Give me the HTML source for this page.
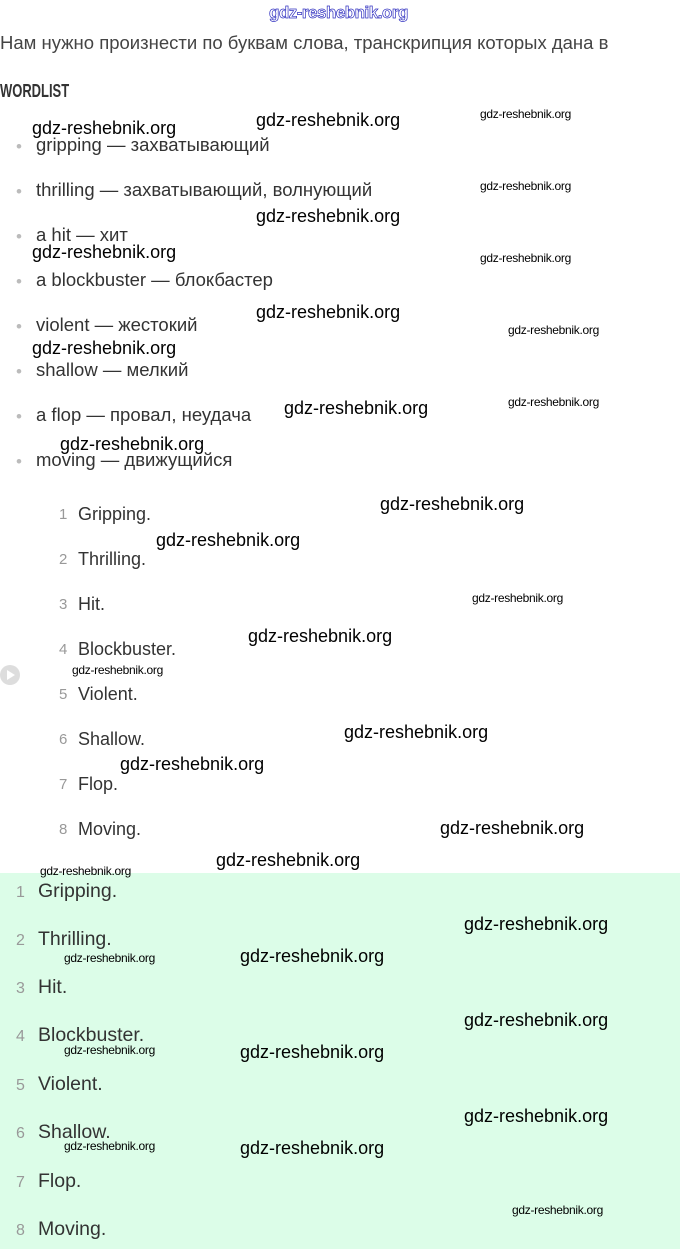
<!DOCTYPE html>
<html><head><meta charset="utf-8"><style>
html,body{margin:0;padding:0;width:680px;height:1249px;background:#fff;overflow:hidden;position:relative;font-family:"Liberation Sans",sans-serif}
div{position:absolute;white-space:nowrap;line-height:1}
.t{font-size:18.5px;color:#333}
.m{font-size:18px;color:#333}
.b{font-size:17px;color:#bbb}
.n{font-size:15px;color:#999}
.g{font-size:19.5px;color:#333}
.gn{font-size:16px;color:#999}
.W{font-size:18px;color:#000}
.w{font-size:12px;color:#000;letter-spacing:-0.3px}
</style></head><body>
<div style="left:0;top:873px;width:680px;height:376px;background:#dcfde8"></div>
<div style="left:269px;top:4px;font-size:17px;color:#fff;-webkit-text-stroke:0.7px #3030c0;font-weight:bold;letter-spacing:-0.5px">gdz-reshebnik.org</div>
<div class="t" style="left:0;top:34px;color:#444">Нам нужно произнести по буквам слова, транскрипция которых дана в</div>
<div style="left:0;top:82px;font-size:18px;font-weight:bold;color:#333;transform:scaleX(0.72);transform-origin:left">WORDLIST</div>

<div class="b" style="left:16px;top:138px">•</div><div class="t" style="left:36px;top:136px">gripping — захватывающий</div>
<div class="b" style="left:16px;top:183px">•</div><div class="t" style="left:36px;top:181px">thrilling — захватывающий, волнующий</div>
<div class="b" style="left:16px;top:228px">•</div><div class="t" style="left:36px;top:226px">a hit — хит</div>
<div class="b" style="left:16px;top:273px">•</div><div class="t" style="left:36px;top:271px">a blockbuster — блокбастер</div>
<div class="b" style="left:16px;top:318px">•</div><div class="t" style="left:36px;top:316px">violent — жестокий</div>
<div class="b" style="left:16px;top:363px">•</div><div class="t" style="left:36px;top:361px">shallow — мелкий</div>
<div class="b" style="left:16px;top:408px">•</div><div class="t" style="left:36px;top:406px">a flop — провал, неудача</div>
<div class="b" style="left:16px;top:453px">•</div><div class="t" style="left:36px;top:451px">moving — движущийся</div>

<div class="n" style="left:59px;top:507px">1</div><div class="m" style="left:78px;top:505px">Gripping.</div>
<div class="n" style="left:59px;top:552px">2</div><div class="m" style="left:78px;top:550px">Thrilling.</div>
<div class="n" style="left:59px;top:597px">3</div><div class="m" style="left:78px;top:595px">Hit.</div>
<div class="n" style="left:59px;top:642px">4</div><div class="m" style="left:78px;top:640px">Blockbuster.</div>
<div class="n" style="left:59px;top:687px">5</div><div class="m" style="left:78px;top:685px">Violent.</div>
<div class="n" style="left:59px;top:732px">6</div><div class="m" style="left:78px;top:730px">Shallow.</div>
<div class="n" style="left:59px;top:777px">7</div><div class="m" style="left:78px;top:775px">Flop.</div>
<div class="n" style="left:59px;top:822px">8</div><div class="m" style="left:78px;top:820px">Moving.</div>

<div style="left:0;top:665px;width:20px;height:20px;border-radius:50%;background:#ddd"></div>
<div style="left:7px;top:670px;width:0;height:0;border-left:8px solid #fff;border-top:5px solid transparent;border-bottom:5px solid transparent"></div>

<div class="gn" style="left:16px;top:885px">1</div><div class="g" style="left:38px;top:882px">Gripping.</div>
<div class="gn" style="left:16px;top:933px">2</div><div class="g" style="left:38px;top:930px">Thrilling.</div>
<div class="gn" style="left:16px;top:981px">3</div><div class="g" style="left:38px;top:978px">Hit.</div>
<div class="gn" style="left:16px;top:1029px">4</div><div class="g" style="left:38px;top:1026px">Blockbuster.</div>
<div class="gn" style="left:16px;top:1078px">5</div><div class="g" style="left:38px;top:1075px">Violent.</div>
<div class="gn" style="left:16px;top:1126px">6</div><div class="g" style="left:38px;top:1123px">Shallow.</div>
<div class="gn" style="left:16px;top:1175px">7</div><div class="g" style="left:38px;top:1172px">Flop.</div>
<div class="gn" style="left:16px;top:1223px">8</div><div class="g" style="left:38px;top:1220px">Moving.</div>

<div class="W" style="left:32px;top:119px">gdz-reshebnik.org</div>
<div class="W" style="left:256px;top:111px">gdz-reshebnik.org</div>
<div class="W" style="left:256px;top:207px">gdz-reshebnik.org</div>
<div class="W" style="left:32px;top:243px">gdz-reshebnik.org</div>
<div class="W" style="left:256px;top:303px">gdz-reshebnik.org</div>
<div class="W" style="left:32px;top:339px">gdz-reshebnik.org</div>
<div class="W" style="left:284px;top:399px">gdz-reshebnik.org</div>
<div class="W" style="left:60px;top:435px">gdz-reshebnik.org</div>
<div class="W" style="left:380px;top:495px">gdz-reshebnik.org</div>
<div class="W" style="left:156px;top:531px">gdz-reshebnik.org</div>
<div class="W" style="left:248px;top:627px">gdz-reshebnik.org</div>
<div class="W" style="left:344px;top:723px">gdz-reshebnik.org</div>
<div class="W" style="left:120px;top:755px">gdz-reshebnik.org</div>
<div class="W" style="left:440px;top:819px">gdz-reshebnik.org</div>
<div class="W" style="left:216px;top:851px">gdz-reshebnik.org</div>
<div class="W" style="left:464px;top:915px">gdz-reshebnik.org</div>
<div class="W" style="left:240px;top:947px">gdz-reshebnik.org</div>
<div class="W" style="left:464px;top:1011px">gdz-reshebnik.org</div>
<div class="W" style="left:240px;top:1043px">gdz-reshebnik.org</div>
<div class="W" style="left:464px;top:1107px">gdz-reshebnik.org</div>
<div class="W" style="left:240px;top:1139px">gdz-reshebnik.org</div>

<div class="w" style="left:480px;top:108px">gdz-reshebnik.org</div>
<div class="w" style="left:480px;top:180px">gdz-reshebnik.org</div>
<div class="w" style="left:480px;top:252px">gdz-reshebnik.org</div>
<div class="w" style="left:508px;top:324px">gdz-reshebnik.org</div>
<div class="w" style="left:508px;top:396px">gdz-reshebnik.org</div>
<div class="w" style="left:472px;top:592px">gdz-reshebnik.org</div>
<div class="w" style="left:72px;top:664px">gdz-reshebnik.org</div>
<div class="w" style="left:40px;top:865px">gdz-reshebnik.org</div>
<div class="w" style="left:64px;top:952px">gdz-reshebnik.org</div>
<div class="w" style="left:64px;top:1044px">gdz-reshebnik.org</div>
<div class="w" style="left:64px;top:1140px">gdz-reshebnik.org</div>
<div class="w" style="left:512px;top:1204px">gdz-reshebnik.org</div>
</body></html>
